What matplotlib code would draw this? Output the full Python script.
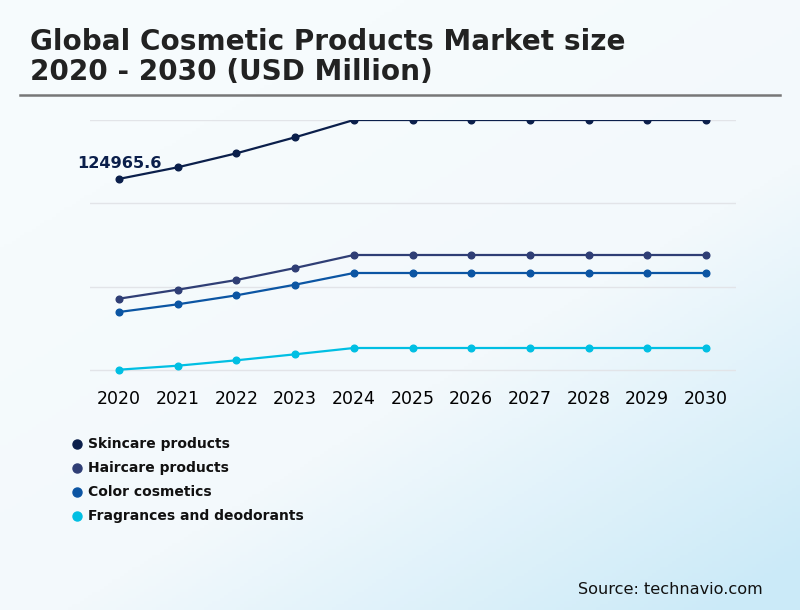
import numpy as np
import matplotlib
matplotlib.use("Agg")
import matplotlib.pyplot as plt
from matplotlib.colors import LinearSegmentedColormap

# data (USD million)
years = [2020, 2021, 2022, 2023, 2024, 2025, 2026, 2027, 2028, 2029, 2030]
skincare = [124965.6, 132560, 141720, 152200, 163500, 163500, 163500, 163500, 163500, 163500, 163500]
haircare = [46640, 52530, 58860, 66710, 75210, 75210, 75210, 75210, 75210, 75210, 75210]
color_cosmetics = [37930, 42960, 48840, 55790, 63440, 63440, 63440, 63440, 63440, 63440, 63440]
fragrances = [200, 2810, 6340, 10270, 14390, 14390, 14390, 14390, 14390, 14390, 14390]

series_names = ["Skincare products", "Haircare products", "Color cosmetics",
                "Fragrances and deodorants"]
series_colors = ["#0b1f4b", "#2f3e75", "#0b55a3", "#00bfe3"]
grid_ticks = [0, 54500, 109000, 163500]

W, H = 800, 610
fig = plt.figure(figsize=(W / 100, H / 100), dpi=100)

# background gradient (white top-left -> light blue bottom-right)
bg = fig.add_axes([0, 0, 1, 1])
gx, gy = np.meshgrid(np.linspace(0, 1, 200), np.linspace(0, 1, 200))
grad = np.clip((gx * 0.6 + gy * 0.75 - 0.3) / 1.0, 0, 1)
cmap = LinearSegmentedColormap.from_list("bg", ["#f6fbfd", "#f3f9fc", "#cbeaf8"])
bg.imshow(grad, cmap=cmap, aspect="auto", extent=[0, 1, 0, 1], origin="upper")
bg.set_axis_off()

# title and separator
fig.text(30 / W, 1 - 42 / H, "Global Cosmetic Products Market size", fontsize=20.1,
         fontweight="bold", color="#222222", va="center", ha="left")
fig.text(30 / W, 1 - 72 / H, "2020 - 2030 (USD Million)", fontsize=20.1,
         fontweight="bold", color="#222222", va="center", ha="left")
bg.plot([20 / W, 780 / W], [1 - 95 / H, 1 - 95 / H], color="#777777", lw=1.8,
        transform=fig.transFigure)

# main plot area (top edge sits on the top gridline, so the top line gets clipped)
top_px, bot_px = 120, 376
per_px = 54500 / 83.33
ax = fig.add_axes([90 / W, 1 - bot_px / H, (736 - 90) / W, (bot_px - top_px) / H])
ax.patch.set_alpha(0)
ax.set_ylim(-(bot_px - 370) * per_px, 163500)
ax.set_xlim(2020 - 29 / 58.7, 2030 + 30 / 58.7)

for vals, col in zip([skincare, haircare, color_cosmetics, fragrances], series_colors):
    ax.plot(years, vals, color=col, lw=1.6, marker="o", ms=4.8, zorder=3)

ax.set_yticks(grid_ticks)
ax.set_yticklabels([])
ax.grid(axis="y", color="#e2e4e8", lw=1)
ax.tick_params(axis="y", length=0)
ax.set_xticks(years)
ax.set_xticklabels([str(y) for y in years], fontsize=12.5, color="black")
ax.tick_params(axis="x", length=0, pad=10)
for s in ax.spines.values():
    s.set_visible(False)

ax.annotate(f"{skincare[0]}", (years[0], skincare[0]), xytext=(0, 11),
            textcoords="offset points", ha="center", va="center",
            fontsize=11.6, fontweight="bold", color="#0b1f4b")

# legend
for i, (name, col) in enumerate(zip(series_names, series_colors)):
    yy = 1 - (444 + 24 * i) / H
    bg.plot(77 / W, yy, "o", color=col, ms=6.5, transform=fig.transFigure)
    fig.text(88 / W, yy, name, fontsize=10, fontweight="bold", color="#111111",
             va="center", ha="left")

fig.text(763 / W, 1 - 589 / H, "Source: technavio.com", fontsize=11.6,
         color="#111111", ha="right", va="center")

fig.savefig("out.png", dpi=100)
